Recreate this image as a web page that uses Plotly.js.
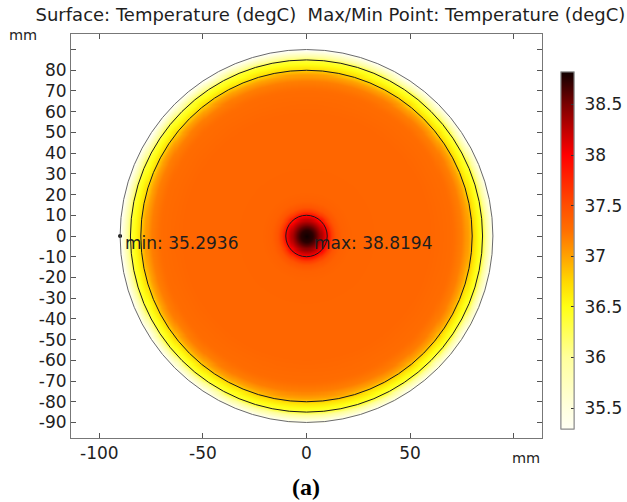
<!DOCTYPE html>
<html>
<head>
<meta charset="utf-8">
<script src="https://cdn.plot.ly/plotly-3.0.1.min.js"></script>
<style>html,body{margin:0;padding:0;background:#fff;}#chart{width:627px;height:502px;}</style>
</head>
<body>
<div id="chart"></div>
<script>
// ---- data ----
const xTickVals = [-100, -50, 0, 50, 100];
const xTickText = ['-100', '-50', '0', '50', ''];
const yTickVals = [-90, -80, -70, -60, -50, -40, -30, -20, -10, 0, 10, 20, 30, 40, 50, 60, 70, 80, 90];
const yTickText = ['-90', '-80', '-70', '-60', '-50', '-40', '-30', '-20', '-10', '0', '10', '20', '30', '40', '50', '60', '70', '80', ''];
const cbTickVals = [35.5, 36, 36.5, 37, 37.5, 38, 38.5];
const cbTickText = ['35.5', '36', '36.5', '37', '37.5', '38', '38.5'];

// radial temperature profile (mm -> degC)
const profileR = [0, 3, 5, 7, 9, 10, 12, 14, 17, 22, 60, 70, 75, 78, 80, 80.5, 83, 85, 86, 88, 90];
const profileT = [38.8194, 38.74, 38.56, 38.32, 38.08, 37.95, 37.62, 37.45, 37.36, 37.33, 37.32, 37.28, 37.18, 37.0, 36.8, 36.7, 36.5, 36.35, 36.1, 35.7, 35.3];

const boundaryRadii = [90, 85, 80, 10];
const boundaryColors = ['#6a6a6a', '#1a1a1a', '#1a1a1a', '#1a1a1a'];

const minXY = [-90, 0];
const minValue = 35.2936;
const maxXY = [0, 0];
const maxValue = 38.8194;

const colorStopsT = [35.2936, 35.5, 36.0, 36.5, 36.75, 37.0, 37.25, 37.5, 38.0, 38.25, 38.5, 38.8194];
const colorStopsC = ['#fffff4', '#ffffde', '#ffff9c', '#ffff14', '#ffd800', '#ffa200', '#ff7000', '#ff4e00', '#ff0000', '#bf0000', '#7a0000', '#100000'];

// ---- build the table the heatmap needs ----
function profileAt(r) {
  if (r > profileR[profileR.length - 1]) return null;
  for (let i = 1; i < profileR.length; i++) {
    if (r <= profileR[i]) {
      const f = (r - profileR[i - 1]) / (profileR[i] - profileR[i - 1]);
      return profileT[i - 1] + f * (profileT[i] - profileT[i - 1]);
    }
  }
  return null;
}
const step = 0.5;
const gx = [];
for (let v = -91; v <= 91.0001; v += step) gx.push(+v.toFixed(2));
const gy = gx.slice();
const z = gy.map(y => gx.map(x => profileAt(Math.sqrt(x * x + y * y))));

const span = maxValue - minValue;
const colorscale = colorStopsT.map((t, i) => [Math.min(1, Math.max(0, (t - minValue) / span)), colorStopsC[i]]);

const font = 'DejaVu Sans, Verdana, sans-serif';
const textColor = '#1e1e1e';

// layout geometry (pixels): plot area 71..542 x 34..438, paper area 71..627
const paperW = 627 - 71;
const domainRight = 471 / paperW;

const cbBase = {
  x: (561 - 71) / paperW, xanchor: 'left', xpad: 0,
  y: 0.464, yanchor: 'middle', ypad: 0,
  thickness: 13, thicknessmode: 'pixels',
  len: 357, lenmode: 'pixels',
  outlinewidth: 1, outlinecolor: '#8a8a8a',
  tickmode: 'array', tickvals: cbTickVals, ticktext: cbTickText,
  tickfont: {family: font, size: 17, color: textColor}
};

const heat = {
  type: 'heatmap', x: gx, y: gy, z: z,
  zmin: minValue, zmax: maxValue, colorscale: colorscale, zsmooth: 'best',
  hoverinfo: 'skip',
  colorbar: Object.assign({}, cbBase, {ticks: 'outside', ticklen: 7, tickcolor: 'rgba(0,0,0,0)'})
};

// second copy of the scale, only for its small inside tick marks
const tickBar = {
  type: 'scatter', mode: 'markers', x: [minXY[0]], y: [minXY[1]], hoverinfo: 'skip', showlegend: false,
  marker: {
    color: [minValue], cmin: minValue, cmax: maxValue, colorscale: colorscale, size: 1, opacity: 0,
    showscale: true,
    colorbar: Object.assign({}, cbBase, {ticks: 'inside', ticklen: 3, tickcolor: '#333', showticklabels: false})
  }
};

const minPt = {
  type: 'scatter', mode: 'markers', x: [minXY[0]], y: [minXY[1]],
  marker: {color: '#000', size: 4}, hoverinfo: 'skip', showlegend: false
};

const shapes = boundaryRadii.map((r, i) => ({
  type: 'circle', xref: 'x', yref: 'y', x0: -r, x1: r, y0: -r, y1: r,
  line: {color: boundaryColors[i], width: 1}
}));

const axisCommon = {
  showgrid: false, zeroline: false, showline: true, linecolor: '#777', linewidth: 1,
  mirror: 'ticks', ticks: 'inside', ticklen: 5, tickcolor: '#555',
  tickfont: {family: font, size: 17, color: textColor}
};

const layout = {
  width: 627, height: 502,
  margin: {l: 71, r: 0, t: 34, b: 64, pad: 0},
  paper_bgcolor: '#fff', plot_bgcolor: '#fff',
  showlegend: false,
  title: {
    text: 'Surface: Temperature (degC)  Max/Min Point: Temperature (degC)',
    font: {family: font, size: 18, color: textColor},
    xref: 'container', x: 0.527, xanchor: 'center',
    yref: 'container', y: 0.970, yanchor: 'middle'
  },
  xaxis: Object.assign({}, axisCommon, {
    domain: [0, domainRight],
    range: [-113.7, 113.7], tickmode: 'array', tickvals: xTickVals, ticktext: xTickText
  }),
  yaxis: Object.assign({}, axisCommon, {
    range: [-97.5, 97.5], tickmode: 'array', tickvals: yTickVals, ticktext: yTickText
  }),
  shapes: shapes,
  annotations: [
    {xref: 'x', yref: 'y', x: minXY[0], y: minXY[1], text: 'min: ' + minValue.toFixed(4),
     showarrow: false, xanchor: 'left', yanchor: 'middle', xshift: 3, yshift: -7,
     font: {family: font, size: 17, color: textColor}},
    {xref: 'x', yref: 'y', x: maxXY[0], y: maxXY[1], text: 'max: ' + maxValue.toFixed(4),
     showarrow: false, xanchor: 'left', yanchor: 'middle', xshift: 5, yshift: -7,
     font: {family: font, size: 17, color: textColor}},
    {xref: 'paper', yref: 'paper', x: (23 - 71) / paperW, y: 0.9975, text: 'mm', showarrow: false,
     xanchor: 'center', yanchor: 'middle', font: {family: font, size: 14.5, color: textColor}},
    {xref: 'paper', yref: 'paper', x: domainRight, y: -0.05, text: 'mm', showarrow: false,
     xanchor: 'right', yanchor: 'middle', font: {family: font, size: 14.5, color: textColor}},
    {xref: 'paper', yref: 'paper', x: (306 - 71) / paperW, y: -0.1215, text: '<b>(a)</b>', showarrow: false,
     xanchor: 'center', yanchor: 'middle', font: {family: 'Liberation Serif, Times New Roman, serif', size: 24, color: '#000'}}
  ]
};

Plotly.newPlot('chart', [heat, tickBar, minPt], layout, {displayModeBar: false, staticPlot: true});
</script>
</body>
</html>
